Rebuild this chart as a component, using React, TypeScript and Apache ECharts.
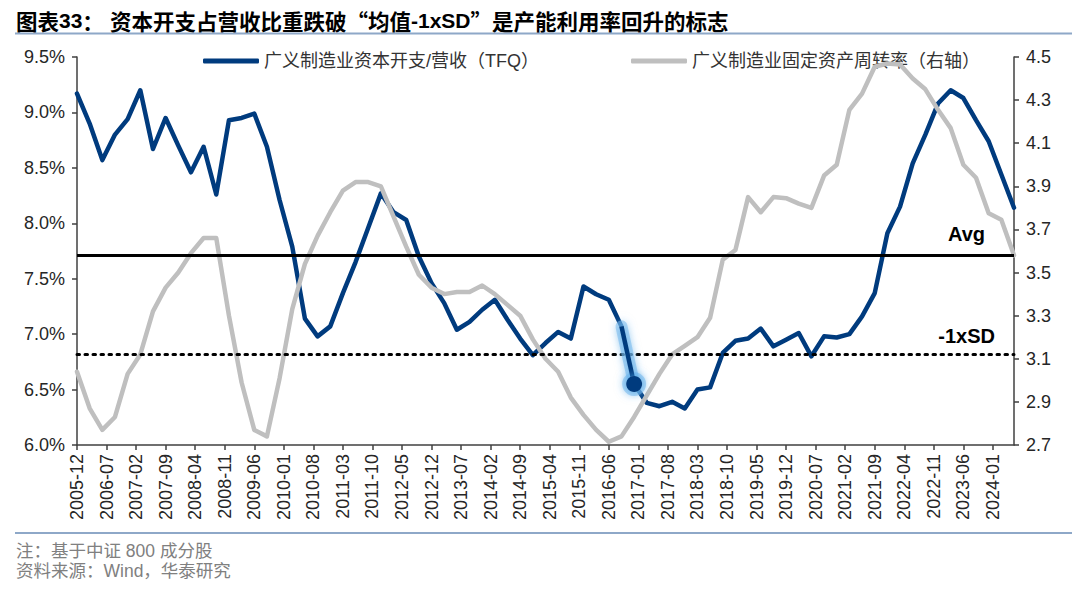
import React, { useEffect, useRef } from "react";
import * as echarts from "echarts";

// ---- categories: monthly axis 2005-12 .. 2024-06 ----
const START_YEAR = 2005;
const START_MONTH = 12;
const END_YEAR = 2024;
const END_MONTH = 6;
function buildMonths(): string[] {
  const out: string[] = [];
  let y = START_YEAR;
  let m = START_MONTH;
  while (y < END_YEAR || (y === END_YEAR && m <= END_MONTH)) {
    out.push(`${y}-${m < 10 ? "0" + m : m}`);
    m += 1;
    if (m > 12) {
      m = 1;
      y += 1;
    }
  }
  return out;
}
const months = buildMonths();

// quarterly observations (every 3rd month starting 2005-12)
const QUARTER_STEP = 3;

const SERIES_CAPEX = "广义制造业资本开支/营收（TFQ）";
const SERIES_TURNOVER = "广义制造业固定资产周转率（右轴）";

// capex / revenue, %
const capexRatio = [
  9.17, 8.9, 8.57, 8.8, 8.94, 9.2, 8.67, 8.95, 8.7, 8.46, 8.69, 8.26, 8.93,
  8.95, 8.99, 8.69, 8.21, 7.79, 7.14, 6.98, 7.07, 7.37, 7.65, 7.96, 8.27,
  8.1, 8.03, 7.7, 7.46, 7.28, 7.04, 7.11, 7.22, 7.31, 7.13, 6.96, 6.81, 6.92,
  7.02, 6.96, 7.43, 7.36, 7.31, 7.07, 6.55, 6.38, 6.35, 6.39, 6.33, 6.5,
  6.52, 6.83, 6.94, 6.96, 7.05, 6.89, 6.95, 7.01, 6.8, 6.98, 6.97, 7.0, 7.16,
  7.37, 7.91, 8.15, 8.54, 8.8, 9.08, 9.2, 9.13, 8.93, 8.74, 8.44, 8.14,
];

// fixed asset turnover (right axis)
const assetTurnover = [
  3.04, 2.87, 2.77, 2.83, 3.03, 3.12, 3.32, 3.43, 3.5, 3.59, 3.66, 3.66, 3.3,
  2.99, 2.77, 2.74, 3.01, 3.33, 3.54, 3.67, 3.78, 3.88, 3.92, 3.92, 3.9,
  3.76, 3.62, 3.49, 3.43, 3.4, 3.41, 3.41, 3.44, 3.4, 3.35, 3.3, 3.19, 3.1,
  3.04, 2.92, 2.84, 2.77, 2.715, 2.74, 2.83, 2.93, 3.03, 3.12, 3.16, 3.2,
  3.29, 3.56, 3.605, 3.85, 3.78, 3.85, 3.845, 3.82, 3.8, 3.95, 4.0, 4.255,
  4.33, 4.455, 4.47, 4.465, 4.4, 4.35, 4.255, 4.17, 4.0, 3.94, 3.775, 3.745,
  3.58,
];

const AVG = 7.71;
const MINUS_1SD = 6.82;
// quarter indices of the highlighted break (2016-09 -> 2016-12)
const HIGHLIGHT_QUARTERS = [43, 44];

const LEFT_MIN = 6.0;
const LEFT_MAX = 9.5;
const LEFT_INTERVAL = 0.5;
const RIGHT_MIN = 2.7;
const RIGHT_MAX = 4.5;
const RIGHT_INTERVAL = 0.2;

const TITLE_A = "{c|图表}{l|33}{c|：}";
const TITLE_B = "{c|资本开支占营收比重跌破“均值}{l|-1xSD}{c|”是产能利用率回升的标志}";
const NOTE_1 = "注：基于中证 800 成分股";
const NOTE_2 = "资料来源：Wind，华泰研究";

function toMonthly(q: number[]): (number | null)[] {
  const arr: (number | null)[] = months.map(() => null);
  q.forEach((v, i) => {
    const idx = i * QUARTER_STEP;
    if (idx < arr.length) arr[idx] = v;
  });
  return arr;
}

function highlightData(dotSize: number): any[] {
  const arr: any[] = months.map(() => null);
  HIGHLIGHT_QUARTERS.forEach((qi, k) => {
    const idx = qi * QUARTER_STEP;
    const item: any = { value: capexRatio[qi] };
    if (k === HIGHLIGHT_QUARTERS.length - 1) {
      item.symbol = "circle";
      item.symbolSize = dotSize;
    } else {
      item.symbol = "none";
    }
    arr[idx] = item;
  });
  return arr;
}

const NUM_FONT = "'Liberation Sans', Arial, sans-serif";
const CJK_FONT = "'Liberation Sans', 'Noto Sans CJK SC', sans-serif";
const CJK_ONLY = "'Noto Sans CJK SC', sans-serif";
const BLUE = "#003B7E";
const GRAY = "#BFBFBF";
const AXIS = "#404040";
const GLOW = "rgba(80,165,230,1)";
const GLOW_SOFT = "rgba(125,190,238,0.55)";

const titleRich = {
  c: { fontSize: 21.5, fontWeight: "bold", fontFamily: CJK_ONLY, fill: "#000", color: "#000" },
  l: { fontSize: 21, fontWeight: "bold", fontFamily: NUM_FONT, fill: "#000", color: "#000" },
};

export default function App() {
  const ref = useRef<HTMLDivElement>(null);

  useEffect(() => {
    if (!ref.current) return;
    const chart = echarts.init(ref.current, null, { renderer: "svg" });

    const option: any = {
      animation: false,
      backgroundColor: "#ffffff",
      grid: { left: 77, right: 66, top: 57, bottom: 148, containLabel: false },
      legend: [
        {
          data: [{ name: SERIES_CAPEX, icon: "roundRect" }],
          left: 198,
          top: 47,
          itemWidth: 56,
          itemHeight: 5,
          textStyle: { fontSize: 18, color: "#333", fontFamily: CJK_FONT },
        },
        {
          data: [{ name: SERIES_TURNOVER, icon: "roundRect" }],
          left: 626,
          top: 47,
          itemWidth: 56,
          itemHeight: 5,
          textStyle: { fontSize: 18, color: "#333", fontFamily: CJK_FONT },
        },
      ],
      xAxis: {
        type: "category",
        data: months,
        boundaryGap: false,
        axisLine: { lineStyle: { color: AXIS, width: 1.5 } },
        axisTick: {
          interval: 6,
          length: 5,
          lineStyle: { color: AXIS, width: 1.5 },
        },
        axisLabel: {
          interval: 6,
          rotate: 90,
          fontSize: 18,
          color: "#262626",
          fontFamily: NUM_FONT,
          margin: 9,
        },
        splitLine: { show: false },
      },
      yAxis: [
        {
          type: "value",
          min: LEFT_MIN,
          max: LEFT_MAX,
          interval: LEFT_INTERVAL,
          position: "left",
          axisLine: { show: true, lineStyle: { color: AXIS, width: 1.5 } },
          axisTick: { show: true, length: 5, lineStyle: { color: AXIS, width: 1.5 } },
          axisLabel: {
            fontSize: 18,
            color: "#262626",
            fontFamily: NUM_FONT,
            margin: 12,
            formatter: (v: number) => v.toFixed(1) + "%",
          },
          splitLine: { show: false },
        },
        {
          type: "value",
          min: RIGHT_MIN,
          max: RIGHT_MAX,
          interval: RIGHT_INTERVAL,
          position: "right",
          axisLine: { show: true, lineStyle: { color: AXIS, width: 1.5 } },
          axisTick: { show: true, length: 5, lineStyle: { color: AXIS, width: 1.5 } },
          axisLabel: {
            fontSize: 18,
            color: "#262626",
            fontFamily: NUM_FONT,
            margin: 12,
            formatter: (v: number) => v.toFixed(1),
          },
          splitLine: { show: false },
        },
      ],
      series: [
        {
          name: SERIES_CAPEX,
          type: "line",
          yAxisIndex: 0,
          data: toMonthly(capexRatio),
          connectNulls: true,
          showSymbol: false,
          symbol: "none",
          color: BLUE,
          lineStyle: { color: BLUE, width: 4.5, cap: "round", join: "round" },
          z: 3,
        },
        {
          name: SERIES_TURNOVER,
          type: "line",
          yAxisIndex: 1,
          data: toMonthly(assetTurnover),
          connectNulls: true,
          showSymbol: false,
          symbol: "none",
          color: GRAY,
          lineStyle: { color: GRAY, width: 4.5, cap: "round", join: "round" },
          z: 4,
        },
        {
          name: "glow",
          type: "line",
          yAxisIndex: 0,
          data: highlightData(24),
          connectNulls: true,
          showSymbol: true,
          showAllSymbol: true,
          symbol: "none",
          lineStyle: {
            color: GLOW_SOFT,
            width: 12,
            cap: "round",
            shadowBlur: 8,
            shadowColor: GLOW_SOFT,
          },
          itemStyle: {
            color: GLOW_SOFT,
            borderWidth: 0,
            shadowBlur: 8,
            shadowColor: GLOW_SOFT,
          },
          z: 5,
        },
        {
          name: "highlight",
          type: "line",
          yAxisIndex: 0,
          data: highlightData(16),
          connectNulls: true,
          showSymbol: true,
          showAllSymbol: true,
          symbol: "none",
          lineStyle: {
            color: BLUE,
            width: 4.5,
            shadowBlur: 10,
            shadowColor: GLOW,
          },
          itemStyle: {
            color: BLUE,
            borderWidth: 0,
            shadowBlur: 10,
            shadowColor: GLOW,
          },
          z: 6,
        },
        {
          name: "refLines",
          type: "line",
          yAxisIndex: 0,
          data: [],
          z: 7,
          markLine: {
            silent: true,
            symbol: "none",
            label: { show: false },
            data: [
              { yAxis: AVG, lineStyle: { color: "#000", width: 3, type: "solid" } },
              {
                yAxis: MINUS_1SD,
                lineStyle: { color: "#000", width: 3, type: [2.5, 5.5], cap: "round" },
              },
            ],
          },
        },
      ],
      graphic: [
        {
          type: "text",
          x: 16,
          y: 20,
          style: { text: TITLE_A, rich: titleRich, verticalAlign: "middle" },
        },
        {
          type: "text",
          x: 110,
          y: 20,
          style: { text: TITLE_B, rich: titleRich, verticalAlign: "middle" },
        },
        {
          type: "line",
          shape: { x1: 15, y1: 33.5, x2: 1072, y2: 33.5 },
          style: { stroke: "#8EA8C8", lineWidth: 2 },
        },
        {
          type: "line",
          shape: { x1: 15, y1: 533, x2: 1072, y2: 533 },
          style: { stroke: "#8EA8C8", lineWidth: 2 },
        },
        {
          type: "text",
          x: 16,
          y: 551,
          style: {
            text: NOTE_1,
            fontSize: 17.5,
            fill: "#808080",
            fontFamily: CJK_FONT,
            verticalAlign: "middle",
          },
        },
        {
          type: "text",
          x: 16,
          y: 571,
          style: {
            text: NOTE_2,
            fontSize: 17.5,
            fill: "#808080",
            fontFamily: CJK_FONT,
            verticalAlign: "middle",
          },
        },
        {
          type: "text",
          right: 95,
          top: 224,
          style: {
            text: "Avg",
            fontSize: 20,
            fontWeight: "bold",
            fill: "#000",
            fontFamily: NUM_FONT,
          },
        },
        {
          type: "text",
          right: 85,
          top: 326,
          style: {
            text: "-1xSD",
            fontSize: 20,
            fontWeight: "bold",
            fill: "#000",
            fontFamily: NUM_FONT,
          },
        },
      ],
    };

    chart.setOption(option);
    return () => chart.dispose();
  }, []);

  return (
    <div
      ref={ref}
      style={{ position: "fixed", left: 0, top: 0, width: 1080, height: 593 }}
    />
  );
}
